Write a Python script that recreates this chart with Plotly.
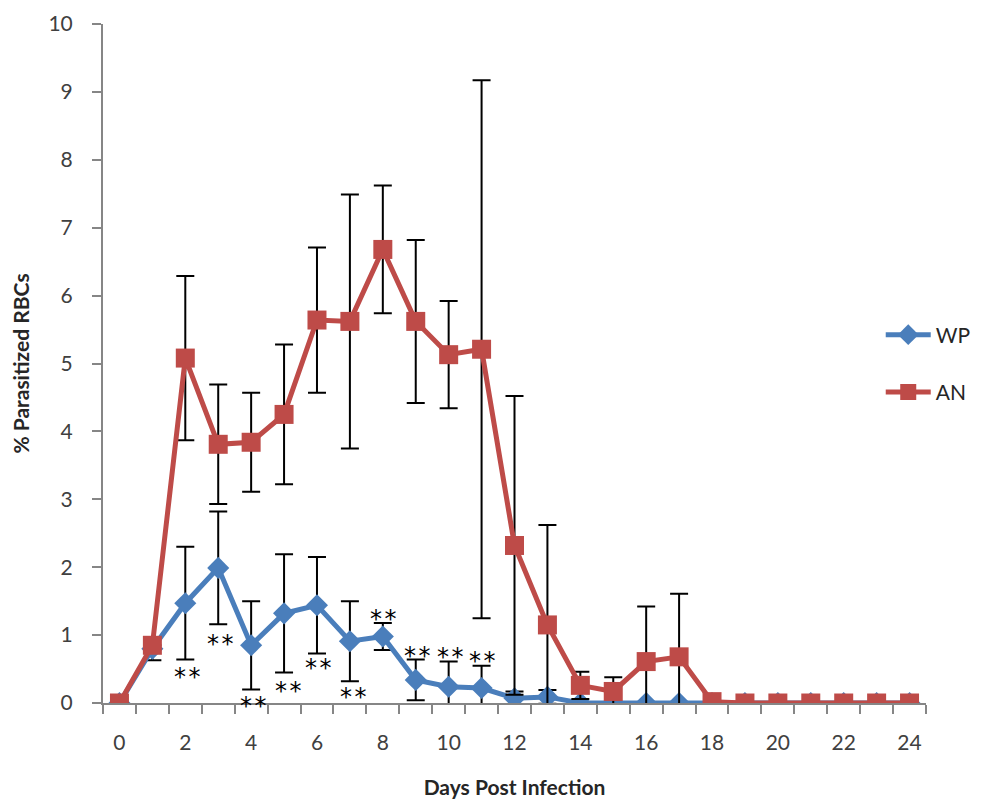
import plotly.graph_objects as go

days = list(range(25))

wp_mean = [0, 0.8, 1.47, 1.99, 0.85, 1.32, 1.44, 0.91, 0.98, 0.34, 0.24, 0.22, 0.07, 0.09,
           0, 0, 0, 0, 0, 0, 0, 0, 0, 0, 0]
wp_err = [0, 0.17, 0.83, 0.83, 0.65, 0.87, 0.71, 0.59, 0.2, 0.3, 0.37, 0.33, 0.1, 0.1,
          0, 0, 0, 0, 0, 0, 0, 0, 0, 0, 0]

an_mean = [0, 0.85, 5.08, 3.81, 3.84, 4.25, 5.64, 5.62, 6.68, 5.62, 5.13, 5.21, 2.32, 1.15,
           0.26, 0.17, 0.61, 0.68, 0.02, 0, 0, 0, 0, 0, 0]
an_err = [0, 0, 1.21, 0.88, 0.73, 1.03, 1.07, 1.87, 0.94, 1.2, 0.79, 3.96, 2.2, 1.47,
          0.2, 0.21, 0.81, 0.93, 0, 0, 0, 0, 0, 0, 0]

# significance marks (day, y position)
star_x = [2.05, 3.06, 4.07, 5.13, 6.04, 7.1, 8.0, 9.04, 10.04, 11.0]
star_y = [0.44, 0.93, 0.02, 0.24, 0.57, 0.14, 1.29, 0.75, 0.73, 0.68]

fig = go.Figure()

fig.add_trace(go.Scatter(
    x=days, y=wp_mean, name="WP", mode="lines+markers", legendgroup="wp",
    line=dict(color="#4a7ebb", width=5),
    marker=dict(symbol="diamond", size=17, color="#4a7ebb"),
    error_y=dict(type="data", array=wp_err, visible=True, color="black", thickness=2, width=9),
))
fig.add_trace(go.Scatter(
    x=days, y=an_mean, name="AN", mode="lines+markers", legendgroup="an",
    line=dict(color="#be4b48", width=5),
    marker=dict(symbol="square", size=19, color="#be4b48"),
    error_y=dict(type="data", array=an_err, visible=True, color="black", thickness=2, width=9),
))

for sx, sy in zip(star_x, star_y):
    fig.add_annotation(x=sx, y=sy, text="*\u200a*", showarrow=False, yshift=-4,
                       font=dict(family="DejaVu Sans", size=24, color="black"))

fig.update_layout(
    width=995, height=802,
    margin=dict(l=95, r=77, t=16, b=107),
    plot_bgcolor="white", paper_bgcolor="white",
    font=dict(family="Lato", color="#404040"),
    legend=dict(x=0.945, y=0.50, xanchor="left", yanchor="middle",
                font=dict(size=21, color="#262626"), tracegroupgap=27,
                itemwidth=45, bgcolor="rgba(0,0,0,0)"),
    showlegend=True,
)

fig.update_xaxes(
    range=[-0.5, 24.5], tickmode="array", tickvals=list(range(0, 25, 2)),
    ticks="", showgrid=False, zeroline=False, ticklabelstandoff=20, automargin=False,
    showline=True, linecolor="#868686", linewidth=2,
    tickfont=dict(size=21, color="#404040"),
    minor=dict(ticks="outside", tick0=0.5, dtick=1, ticklen=9, tickcolor="#868686", tickwidth=2),
    title=dict(text="<b>Days Post Infection</b>", font=dict(size=21, color="#262626"), standoff=27),
)
fig.update_yaxes(
    range=[0, 10], dtick=1, ticks="outside", ticklen=9, tickcolor="#868686", tickwidth=2,
    showgrid=False, zeroline=False, ticklabelstandoff=15, automargin=False,
    showline=True, linecolor="#868686", linewidth=2,
    tickfont=dict(size=21, color="#404040"),
    title=dict(text="<b>% Parasitized RBCs</b>", font=dict(size=21, color="#262626"), standoff=25),
)

fig.write_html("out.html")
